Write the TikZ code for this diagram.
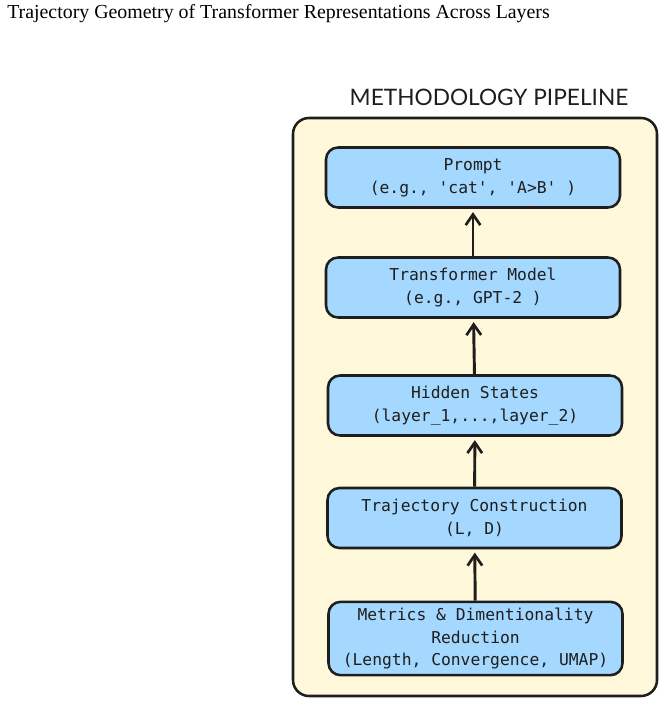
\documentclass[tikz,border=0pt]{standalone}
\usepackage{fontspec}
\setmainfont{Liberation Serif}
\setmonofont{DejaVu Sans Mono}
\newfontfamily\headfont{Lato}
\usetikzlibrary{arrows.meta}
\definecolor{panelfill}{HTML}{FFF8DB}
\definecolor{stagefill}{HTML}{A5D8FF}
\definecolor{ink}{HTML}{1E1E1E}
\tikzset{
  stage/.style={draw=ink, fill=stagefill, line width=1.9pt, rounded corners=9pt,
    minimum width=220.5pt, minimum height=45pt, align=center, text=ink,
    font=\ttfamily\fontsize{12.25}{17}\selectfont},
  flow/.style={-{Straight Barb[length=8pt,width=11pt,line width=2pt]}, line width=2.2pt,
    draw=ink, shorten >=2.5pt}
}

\begin{document}
\begin{tikzpicture}[x=0.75pt, y=-0.75pt]
\useasboundingbox (0,0) rectangle (665,705);
% Titles
    \node[anchor=west, inner sep=0pt, font=\fontsize{14.9}{17}\selectfont] (title) at (7,14)
        {Trajectory Geometry of Transformer Representations Across Layers};
    \node[inner sep=0pt, text=ink, font=\headfont\fontsize{17}{20}\selectfont] (heading) at (489,97)
        {METHODOLOGY PIPELINE};
% Panel
    \draw[ink, fill=panelfill, line width=1.9pt, rounded corners=12pt] (293,118) rectangle (657,696);
% Stages
    \node[stage] (prompt) at (473,177.5) {Prompt\\(e.g., 'cat', 'A>B' )};
    \node[stage] (model) at (473,287.5) {Transformer Model\\(e.g., GPT-2 )};
    \node[stage] (hidden) at (475,405.5) {Hidden States\\(layer\_1,...,layer\_2)};
    \node[stage] (traj) at (474.5,518) {Trajectory Construction\\(L, D)};
    \node[stage, minimum height=55pt] (metrics) at (475.5,638.5)
        {Metrics \& Dimentionality\\Reduction\\(Length, Convergence, UMAP)};
% Flow
    \draw[flow] (model) -- (prompt);
    \draw[flow] (hidden) -- (model);
    \draw[flow] (traj) -- (hidden);
    \draw[flow] (metrics) -- (traj);
\end{tikzpicture}
\end{document}
